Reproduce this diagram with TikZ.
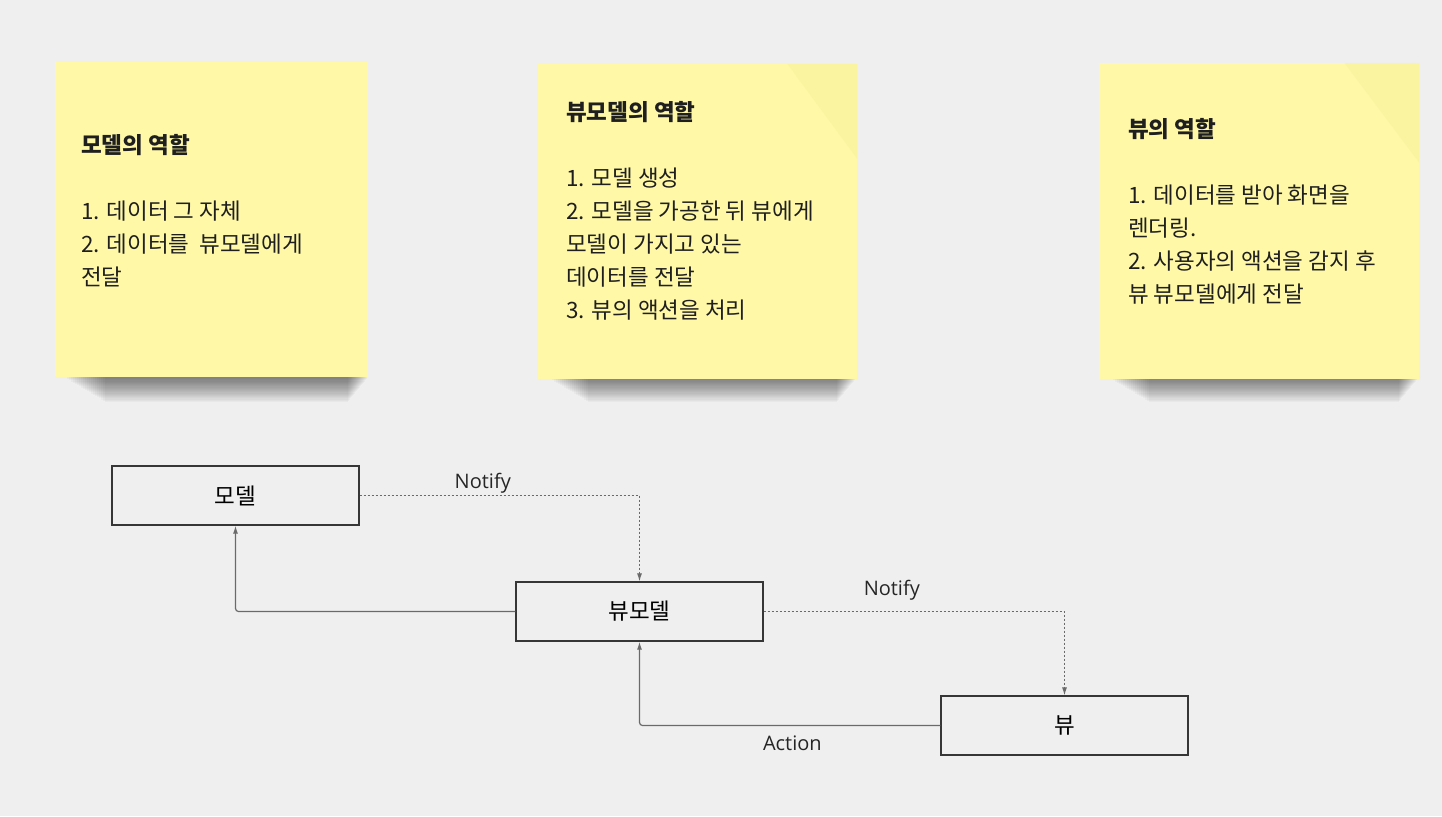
\documentclass[tikz,border=0pt]{standalone}
\usepackage{fontspec}
\setmainfont{Noto Sans CJK KR}
\newfontfamily\labelfont{Open Sans}
\usetikzlibrary{positioning,arrows.meta}
\definecolor{boardbg}{HTML}{EFEFEF}
\definecolor{stickyyellow}{HTML}{FFF9A7}
\definecolor{stickyfold}{HTML}{F3EA92}
\definecolor{boxline}{HTML}{363636}
\definecolor{wireline}{HTML}{6A6A6A}
\tikzstyle{sticky} = [rectangle, fill=stickyyellow, minimum height=315pt, inner sep=0pt]
\tikzstyle{memo} = [anchor=north west, align=left, inner sep=0pt, font=\fontsize{22.5}{33}\selectfont, text=black!88]
\tikzstyle{block} = [rectangle, draw=boxline, line width=1.3pt, minimum width=247pt, minimum height=59pt, font=\fontsize{22.5}{25}\selectfont]
\tikzstyle{notify} = [wireline, line width=1pt, dash pattern=on 2pt off 2pt, -{Latex[length=8pt,width=5pt]}]
\tikzstyle{action} = [wireline, line width=1.2pt, rounded corners=3pt, -{Latex[length=8pt,width=5pt]}]
\tikzstyle{tag} = [font=\labelfont\fontsize{20}{23}\selectfont, text=black!85, inner sep=0pt]

\begin{document}
\begin{tikzpicture}[x=1pt, y=-1pt]
			\fill [boardbg] (0,0) rectangle (1442,816);
			\useasboundingbox (0,0) rectangle (1442,816);

			% shadows under the sticky notes
			\foreach \l/\r in {55/368, 538/857, 1099/1419}
				\foreach \i in {0,...,19}
					\fill [black, opacity=0.026] (\l+50-2*\i, 372) rectangle (\r-20+\i, 402-1.2*\i);

			% sticky notes
			\node (modelnote) [sticky, minimum width=313pt] at (211.5,219.5) {};
			\node (vmnote) [sticky, minimum width=319pt] at (697.5,221.5) {};
			\node (viewnote) [sticky, minimum width=320pt, minimum height=316pt] at (1259,221) {};
			\fill [stickyfold, opacity=0.35] (vmnote.north east) -- ++(-70,0) -- ++(70,95) -- cycle;
			\fill [stickyfold, opacity=0.35] (viewnote.north east) -- ++(-75,0) -- ++(75,100) -- cycle;

			\node (modeltext) [memo] at (81,134) {\textbf{모델의 역할}\\ \\1. 데이터 그 자체\\2. 데이터를~ 뷰모델에게\\전달};
			\node (vmtext) [memo] at (566,101) {\textbf{뷰모델의 역할}\\ \\1. 모델 생성\\2. 모델을 가공한 뒤 뷰에게\\모델이 가지고 있는\\데이터를 전달\\3. 뷰의 액션을 처리};
			\node (viewtext) [memo] at (1128,118) {\textbf{뷰의 역할}\\ \\1. 데이터를 받아 화면을\\렌더링.\\2. 사용자의 액션을 감지 후\\뷰 뷰모델에게 전달};

			% diagram
			\node (model) [block] at (235.5,495.5) {모델};
			\node (viewmodel) [block] at (639.5,611.5) {뷰모델};
			\node (view) [block] at (1064.5,725.5) {뷰};

			\draw [notify] (model.east) -| node [tag, above=2pt, pos=0.22] {Notify} (viewmodel.north);
			\draw [action] (viewmodel.west) -| (model.south);
			\draw [notify] (viewmodel.east) -| node [tag, above=11pt, pos=0.213] {Notify} (view.north);
			\draw [action] (view.west) -| node [tag, below=10pt, pos=0.246] {Action} (viewmodel.south);
			\end{tikzpicture}
\end{document}
